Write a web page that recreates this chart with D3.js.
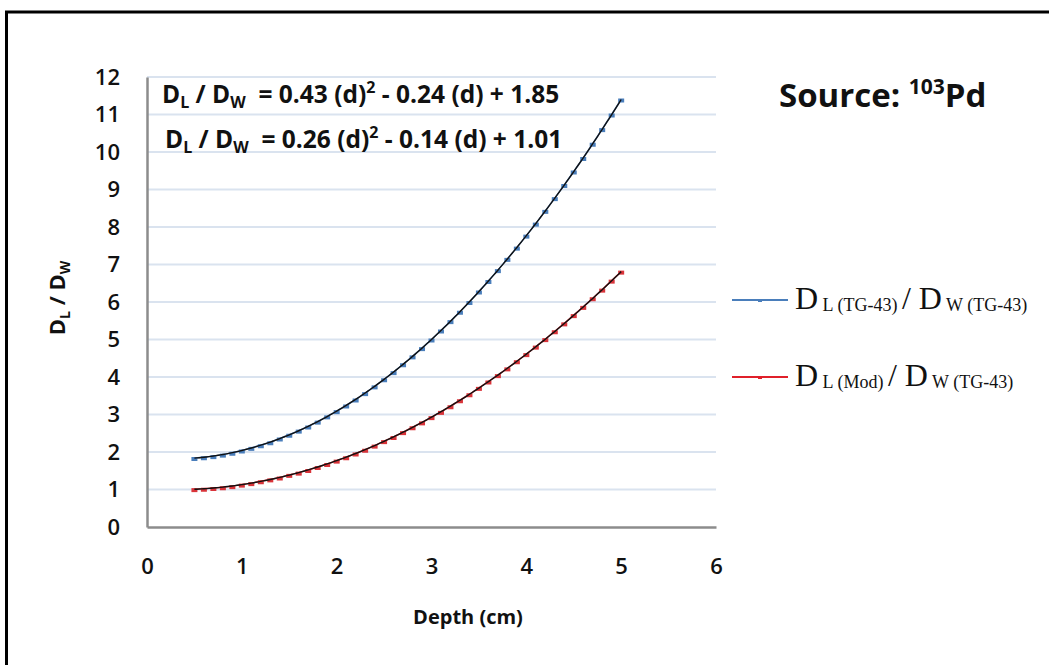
<!DOCTYPE html>
<html>
<head>
<meta charset="utf-8">
<script src="https://d3js.org/d3.v7.min.js"></script>
<style>
  body { margin: 0; background: #fff; }
  svg text { font-family: "Open Sans", Lato, sans-serif; }
</style>
</head>
<body>
<div id="chart"></div>
<script>
// depth values (cm)
const depths = [0.5, 0.6, 0.7, 0.8, 0.9, 1.0, 1.1, 1.2, 1.3, 1.4, 1.5, 1.6, 1.7, 1.8, 1.9,
  2.0, 2.1, 2.2, 2.3, 2.4, 2.5, 2.6, 2.7, 2.8, 2.9, 3.0, 3.1, 3.2, 3.3, 3.4, 3.5, 3.6, 3.7,
  3.8, 3.9, 4.0, 4.1, 4.2, 4.3, 4.4, 4.5, 4.6, 4.7, 4.8, 4.9, 5.0];

// D_L(TG-43) / D_W(TG-43)
const ratioTG43 = [1.84, 1.86, 1.89, 1.93, 1.98, 2.04, 2.11, 2.18, 2.26, 2.36, 2.46, 2.57,
  2.68, 2.81, 2.95, 3.09, 3.24, 3.40, 3.57, 3.75, 3.94, 4.13, 4.34, 4.55, 4.77, 5.00, 5.24,
  5.49, 5.74, 6.00, 6.28, 6.56, 6.85, 7.15, 7.45, 7.77, 8.09, 8.43, 8.77, 9.12, 9.48, 9.84,
  10.22, 10.61, 11.00, 11.40];

// D_L(Mod) / D_W(TG-43)
const ratioMod = [1.01, 1.02, 1.04, 1.06, 1.09, 1.13, 1.17, 1.22, 1.27, 1.32, 1.39, 1.45,
  1.52, 1.60, 1.68, 1.77, 1.86, 1.96, 2.06, 2.17, 2.29, 2.40, 2.53, 2.66, 2.79, 2.93, 3.07,
  3.22, 3.38, 3.54, 3.71, 3.88, 4.05, 4.23, 4.42, 4.61, 4.81, 5.01, 5.22, 5.43, 5.65, 5.87,
  6.10, 6.33, 6.57, 6.81];

// polynomial trendline coefficients [a, b, c] shown on the chart
const fitTG43 = [0.43, -0.24, 1.85];
const fitMod = [0.26, -0.14, 1.01];

const xTicks = [0, 1, 2, 3, 4, 5, 6];
const yTicks = [0, 1, 2, 3, 4, 5, 6, 7, 8, 9, 10, 11, 12];

const width = 1049, height = 665;
const margin = {top: 77, right: 333, bottom: 138, left: 147};

const svg = d3.select("#chart").append("svg")
  .attr("width", width)
  .attr("height", height);

// outer frame (cut off at right and bottom)
svg.append("rect")
  .attr("x", 6.5).attr("y", 12)
  .attr("width", width + 20).attr("height", height + 20)
  .attr("fill", "none")
  .attr("stroke", "#000")
  .attr("stroke-width", 3);

const x = d3.scaleLinear().domain([0, 6]).range([margin.left, width - margin.right]);
const y = d3.scaleLinear().domain([0, 12]).range([height - margin.bottom, margin.top]);

// gridlines
svg.append("g")
  .selectAll("line")
  .data(yTicks.filter(d => d > 0))
  .join("line")
  .attr("x1", x(0)).attr("x2", x(6))
  .attr("y1", d => y(d)).attr("y2", d => y(d))
  .attr("stroke", "#dae3ef")
  .attr("stroke-width", 2);

// axes
const xAxis = svg.append("g")
  .attr("transform", "translate(0," + y(0) + ")")
  .call(d3.axisBottom(x).tickValues(xTicks).tickFormat(d3.format("d")).tickSize(0).tickPadding(31));
xAxis.select(".domain").attr("stroke", "#8c8c8c").attr("stroke-width", 2.5);
xAxis.selectAll("text")
  .attr("font-size", 22).attr("font-weight", 600).attr("fill", "#111")
  .style("font-family", "'Open Sans', sans-serif");

const yAxis = svg.append("g")
  .attr("transform", "translate(" + x(0) + ",0)")
  .call(d3.axisLeft(y).tickValues(yTicks).tickSize(0).tickPadding(27));
yAxis.select(".domain").attr("stroke", "#8c8c8c").attr("stroke-width", 2.5);
yAxis.selectAll("text")
  .attr("font-size", 22).attr("font-weight", 600).attr("fill", "#111")
  .style("font-family", "'Open Sans', sans-serif");

// series
const series = [
  {name: "tg43", values: ratioTG43, color: "#4a7ebb", fit: fitTG43},
  {name: "mod", values: ratioMod, color: "#d9343a", fit: fitMod}
];

const line = d3.line()
  .x(d => x(d[0]))
  .y(d => y(d[1]));

series.forEach(s => {
  const pts = depths.map((d, i) => [d, s.values[i]]);
  svg.append("path")
    .datum(pts)
    .attr("fill", "none")
    .attr("stroke", s.color)
    .attr("stroke-width", 1.5)
    .attr("d", line);
  svg.append("g")
    .selectAll("rect")
    .data(pts)
    .join("rect")
    .attr("x", d => x(d[0]) - 3)
    .attr("y", d => y(d[1]) - 1)
    .attr("width", 6)
    .attr("height", 4)
    .attr("fill", s.color);
  // trendline from the displayed equation
  const fitPts = d3.range(0, 181).map(i => {
    const d = 0.5 + i * 0.025;
    return [d, s.fit[0] * d * d + s.fit[1] * d + s.fit[2]];
  });
  svg.append("path")
    .datum(fitPts)
    .attr("fill", "none")
    .attr("stroke", "#111")
    .attr("stroke-width", 1.4)
    .attr("d", line);
});

// equations
function equation(xp, yp, fit) {
  const t = svg.append("text")
    .attr("x", xp).attr("y", yp)
    .attr("font-size", 24.5).attr("font-weight", "bold").attr("fill", "#111")
    .style("white-space", "pre");
  t.append("tspan").text("D");
  t.append("tspan").attr("font-size", 16).attr("dy", 5).text("L");
  t.append("tspan").attr("dy", -5).text(" / D");
  t.append("tspan").attr("font-size", 16).attr("dy", 5).text("W");
  t.append("tspan").attr("dy", -5).text("  = " + fit[0].toFixed(2) + " (d)");
  t.append("tspan").attr("font-size", 16).attr("dy", -10).text("2");
  t.append("tspan").attr("dy", 10).text(" - " + Math.abs(fit[1]).toFixed(2) + " (d) + " + fit[2].toFixed(2));
}
equation(162, 103, fitTG43);
equation(165, 148, fitMod);

// source title
const title = svg.append("text")
  .attr("x", 779).attr("y", 107)
  .attr("font-size", 33).attr("font-weight", "bold").attr("fill", "#111");
title.append("tspan").text("Source: ");
title.append("tspan").attr("font-size", 21).attr("dy", -13).text("103");
title.append("tspan").attr("dy", 13).text("Pd");

// axis titles
svg.append("text")
  .attr("x", 468).attr("y", 624)
  .attr("text-anchor", "middle")
  .attr("font-size", 20).attr("font-weight", "bold").attr("fill", "#111")
  .text("Depth (cm)");

const yt = svg.append("text")
  .attr("transform", "translate(65,298) rotate(-90)")
  .attr("text-anchor", "middle")
  .attr("font-size", 22).attr("font-weight", "bold").attr("fill", "#111");
yt.append("tspan").text("D");
yt.append("tspan").attr("font-size", 14).attr("dy", 5).text("L");
yt.append("tspan").attr("dy", -5).text(" / D");
yt.append("tspan").attr("font-size", 14).attr("dy", 5).text("W");

// legend
const legendItems = [
  {color: "#4a7ebb", sub1: "L (TG-43)", sub2: "W (TG-43)", y: 300},
  {color: "#e0202a", sub1: "L (Mod)", sub2: "W (TG-43)", y: 377}
];
legendItems.forEach(l => {
  svg.append("line")
    .attr("x1", 732).attr("x2", 788)
    .attr("y1", l.y).attr("y2", l.y)
    .attr("stroke", l.color).attr("stroke-width", 2);
  svg.append("rect")
    .attr("x", 758).attr("y", l.y - 1).attr("width", 4).attr("height", 3)
    .attr("fill", l.color);
  const t = svg.append("text")
    .attr("x", 795).attr("y", l.y + 9)
    .attr("fill", "#111")
    .style("font-family", "'Liberation Serif', 'Times New Roman', serif")
    .attr("font-size", 32);
  t.append("tspan").text("D");
  t.append("tspan").attr("font-size", 18).attr("dy", 2).text(" " + l.sub1 + " ");
  t.append("tspan").attr("dy", -2).text("/ D");
  t.append("tspan").attr("font-size", 18).attr("dy", 2).text(" " + l.sub2);
});
</script>
</body>
</html>
